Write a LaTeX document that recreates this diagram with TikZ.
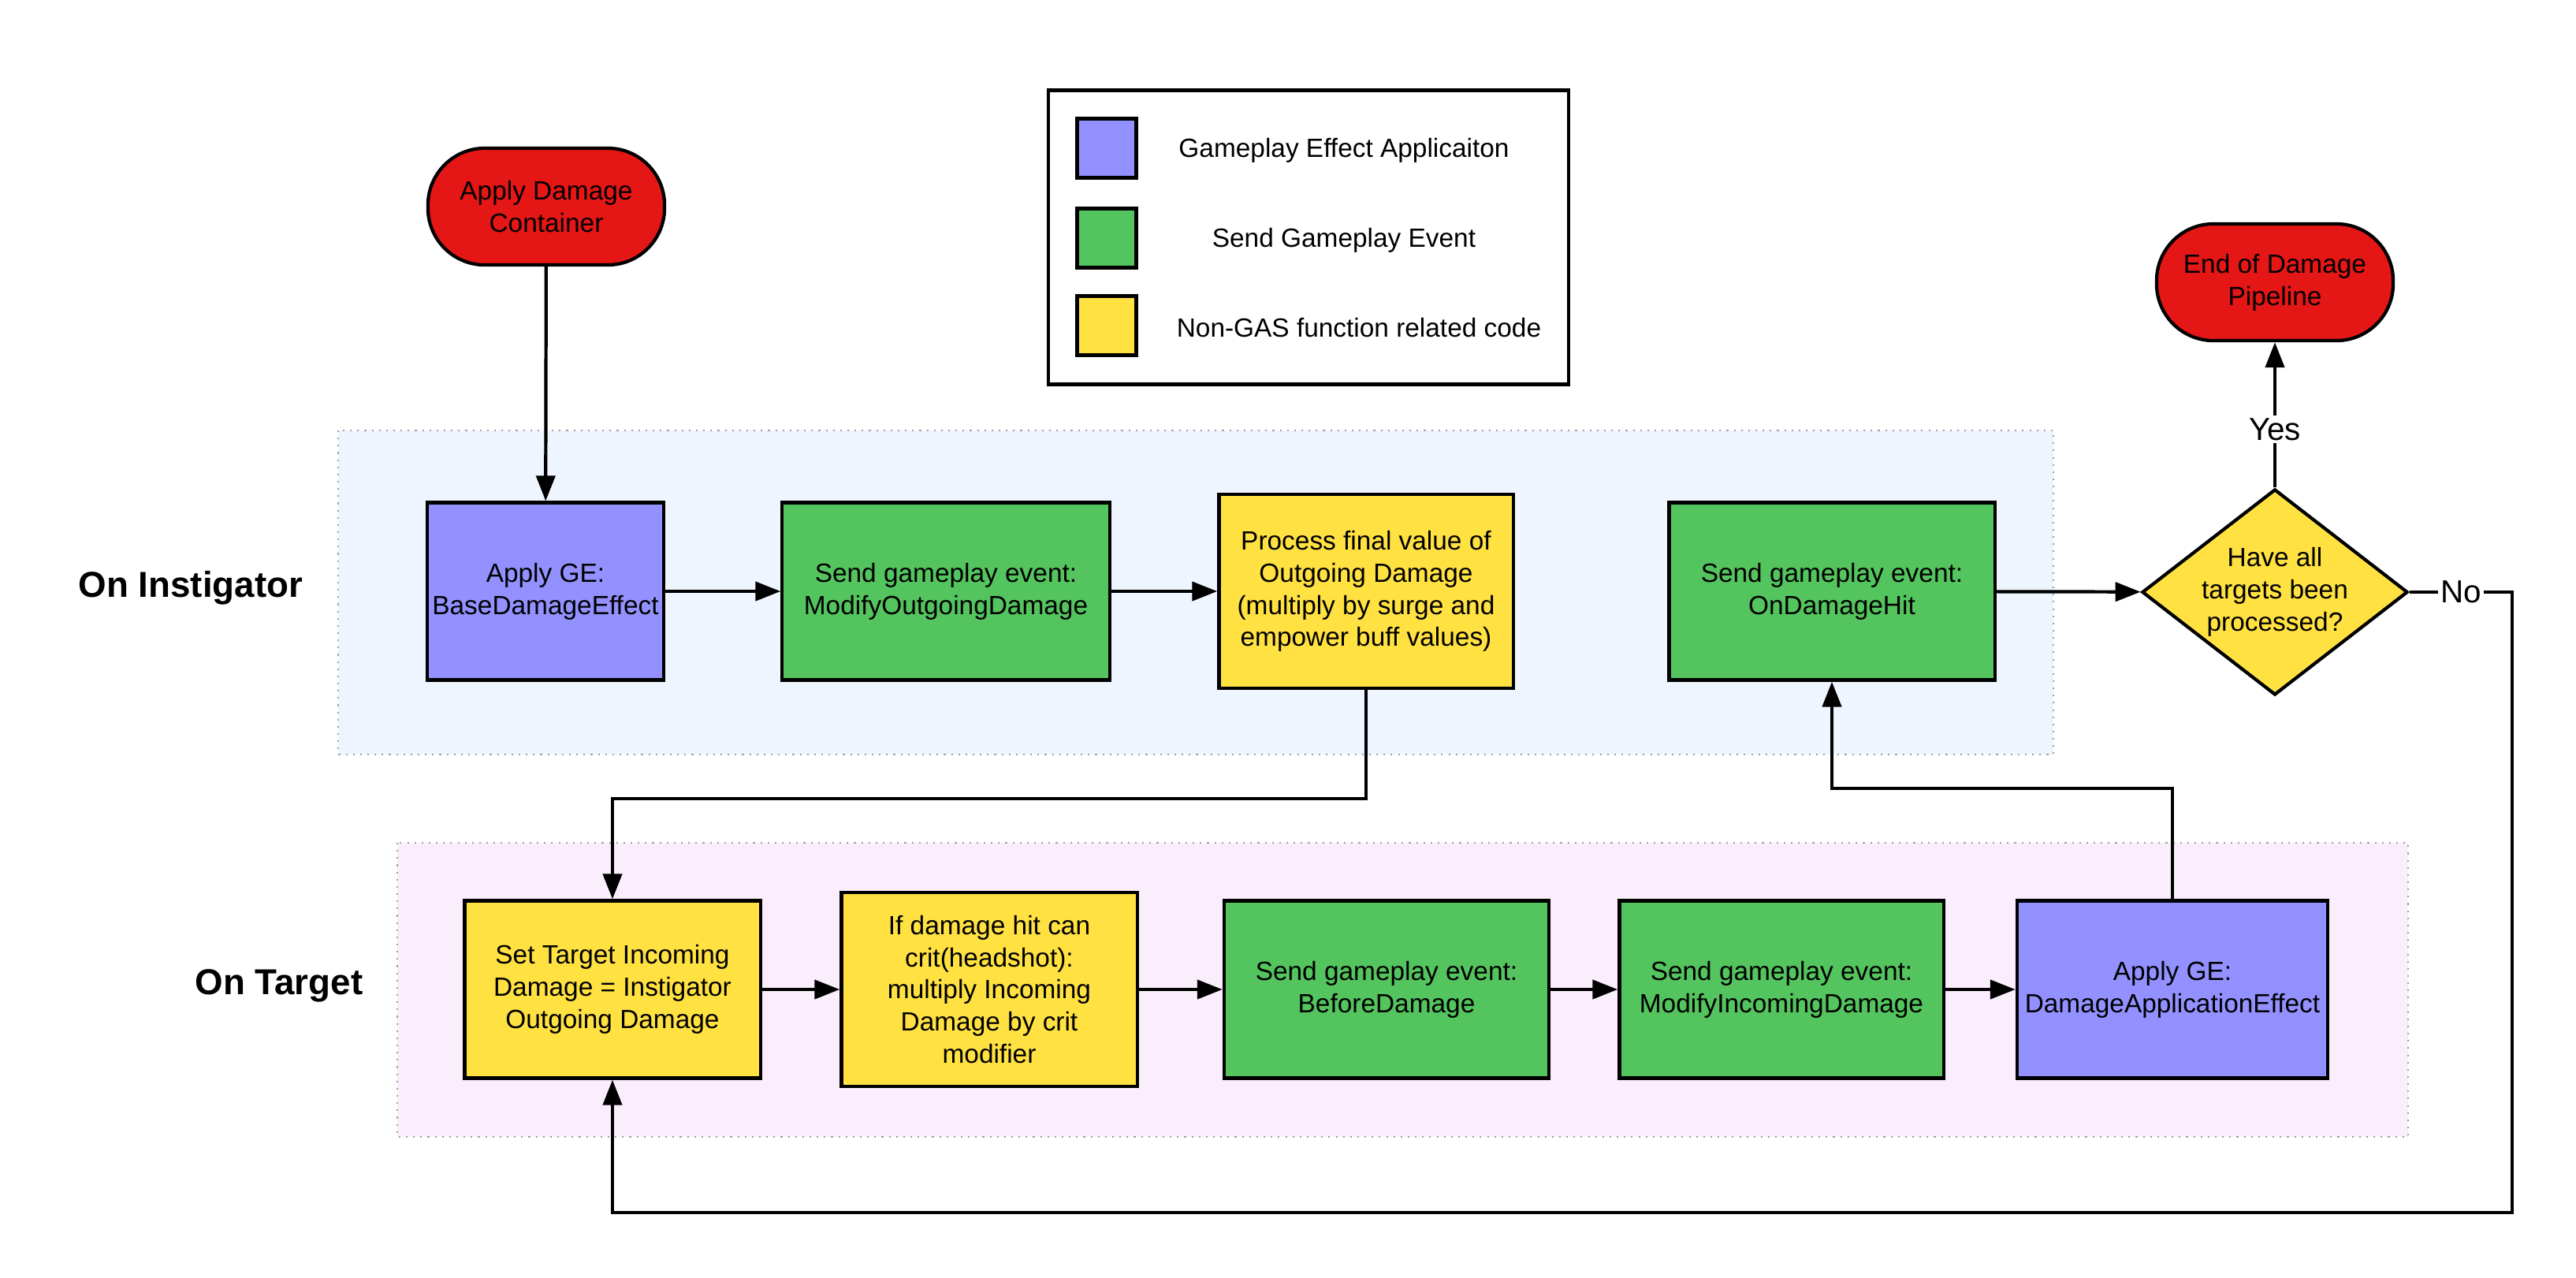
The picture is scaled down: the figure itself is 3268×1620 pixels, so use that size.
\documentclass[tikz,border=0pt]{standalone}
\usepackage{fontspec}
\setmainfont{Liberation Sans}
\usetikzlibrary{arrows.meta, positioning, shapes.geometric, calc}
\definecolor{geblue}{HTML}{9391FF}
\definecolor{evgreen}{HTML}{54C45E}
\definecolor{codeyellow}{HTML}{FFE142}
\definecolor{termred}{HTML}{E51616}
\definecolor{instzone}{HTML}{EEF5FE}
\definecolor{targzone}{HTML}{FAEEFC}

\begin{document}
\begin{tikzpicture}[x=0.01cm, y=-0.01cm, font={\fontsize{9.5}{11.6}\selectfont},
  blk/.style={draw, line width=1.2pt, minimum height=2.25cm, align=center, inner sep=1pt},
  gebox/.style={blk, fill=geblue},
  evbox/.style={blk, fill=evgreen},
  codebox/.style={blk, fill=codeyellow},
  term/.style={draw, line width=1.2pt, fill=termred, rounded corners=0.72cm,
               minimum width=3cm, minimum height=1.48cm, align=center},
  zone/.style={draw=gray!75, dotted, line width=0.6pt},
  lane/.style={font={\bfseries\fontsize{13}{15}\selectfont}},
  ans/.style={fill=white, inner sep=1pt, font={\fontsize{11.5}{13}\selectfont}},
  arr/.style={line width=1.2pt, -{Triangle[length=3.2mm, width=2.4mm]}}
]
\useasboundingbox (0,0) rectangle (3268,1620);

% ---- lanes --------------------------------------------------------------
\filldraw[zone, fill=instzone] (429,546) rectangle (2605,957);
\filldraw[zone, fill=targzone] (504,1069) rectangle (3055,1442);
\node[lane] (lanei) at (242,746) {On Instigator};
\node[lane] (lanet) at (354,1250) {On Target};

% ---- legend -------------------------------------------------------------
\node[draw, line width=1.3pt, minimum width=6.6cm, minimum height=3.73cm] (legend) at (1660,301) {};
\foreach \n/\c/\y/\tx/\t in {ge/geblue/188/1705/Gameplay Effect Applicaiton,
                             ev/evgreen/302/1705/Send Gameplay Event,
                             code/codeyellow/413/1724/Non-GAS function related code} {
  \node[draw, line width=1.2pt, fill=\c, minimum size=0.75cm] (sw\n) at (1404,\y) {};
  \node (lg\n) at (\tx,\y+3) {\t};
}

% ---- instigator ---------------------------------------------------------
\node[term] (start) at (693,262) {Apply Damage\\Container};
\node[gebox, minimum width=3cm] (applybase) at (692,750) {Apply GE:\\BaseDamageEffect};
\node[evbox, minimum width=4.15cm] (modout) at (1200,750) {Send gameplay event:\\ModifyOutgoingDamage};
\node[codebox, minimum width=3.73cm, minimum height=2.46cm] (process) at (1733,750)
  {Process final value of\\Outgoing Damage\\(multiply by surge and\\empower buff values)};
\node[evbox, minimum width=4.13cm] (hit) at (2324,750) {Send gameplay event:\\OnDamageHit};
\node[diamond, draw, line width=1.2pt, fill=codeyellow, aspect=1.29, minimum width=3.37cm,
      minimum height=2.61cm, inner sep=0pt, align=center] (check) at (2886,751)
  {Have all\\targets been\\processed?};
\node[term] (finish) at (2886,358) {End of Damage\\Pipeline};

% ---- target -------------------------------------------------------------
\node[codebox, minimum width=3.75cm] (settarget) at (777,1255)
  {Set Target Incoming\\Damage = Instigator\\Outgoing Damage};
\node[codebox, minimum width=3.75cm, minimum height=2.46cm] (crit) at (1255,1255)
  {If damage hit can\\crit(headshot):\\multiply Incoming\\Damage by crit\\modifier};
\node[evbox, minimum width=4.12cm] (before) at (1759,1255) {Send gameplay event:\\BeforeDamage};
\node[evbox, minimum width=4.11cm] (modin) at (2260,1255) {Send gameplay event:\\ModifyIncomingDamage};
\node[gebox, minimum width=3.94cm] (applydmg) at (2756,1255) {Apply GE:\\DamageApplicationEffect};

% ---- connectors ---------------------------------------------------------
\coordinate (jogout) at (1733,1013);
\coordinate (joghit) at (2756,1000);
\coordinate (noturn) at (3187,1538);

\draw[arr] (start) -- (applybase);
\draw[arr] (applybase) -- (modout);
\draw[arr] (modout) -- (process);
\draw[arr] (hit) -- (check);
\draw[arr] (check) -- node[ans, pos=0.4] {Yes} (finish);
\draw[arr] (process) -- (jogout) -| (settarget);
\draw[arr] (settarget) -- (crit);
\draw[arr] (crit) -- (before);
\draw[arr] (before) -- (modin);
\draw[arr] (modin) -- (applydmg);
\draw[arr] (applydmg) -- (joghit) -| (hit);
\draw[arr] (check.east) -- node[ans] {No} (check.east -| noturn) -- (noturn) -| (settarget);
\end{tikzpicture}
\end{document}
